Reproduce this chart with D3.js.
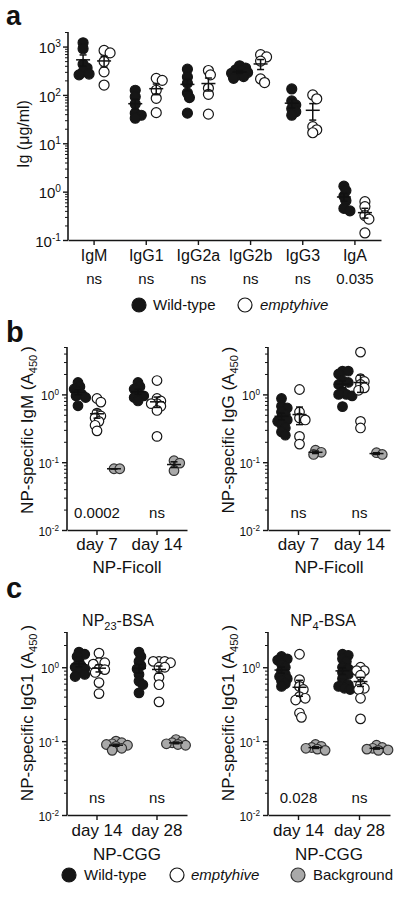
<!DOCTYPE html>
<html><head><meta charset="utf-8">
<script src="https://cdn.jsdelivr.net/npm/d3@7"></script>
<style>
body{margin:0;background:#fff}
svg text{font-family:"Liberation Sans",Arial,Helvetica,sans-serif;fill:#111}
</style>
</head><body>
<svg id="chart" width="400" height="900"></svg>
<script>
// ---------- DATA ----------
// Panel a: serum Ig (µg/ml)
const igCategories = ["IgM","IgG1","IgG2a","IgG2b","IgG3","IgA"];
const igWildType = [
  [1200, 900, 430, 360, 300, 270, 260],
  [125, 92, 65, 42, 38, 33],
  [340, 235, 175, 110, 88, 42],
  [400, 360, 330, 310, 290, 280, 260, 240, 220],
  [133, 75, 62, 52, 45, 38],
  [1.3, 1.05, 0.8, 0.65, 0.45, 0.4]
];
const igEmptyhive = [
  [830, 740, 490, 300, 160],
  [220, 200, 125, 85, 43],
  [320, 260, 137, 103, 40],
  [680, 610, 500, 214, 180],
  [100, 83, 22, 19, 16.5],
  [0.62, 0.49, 0.32, 0.27, 0.14]
];
const igPValues = ["ns","ns","ns","ns","ns","0.035"];

// Panel b: NP-Ficoll
const ficollDays = ["day 7","day 14"];
const igmWildType = [[1.5, 1.3, 1.2, 1.1, 1.0, 0.95, 0.9, 0.68],[1.5, 1.3, 1.2, 1.0, 0.95, 0.9, 0.8]];
const igmEmptyhive = [[0.87, 0.77, 0.53, 0.48, 0.45, 0.40, 0.35, 0.29],[1.6, 0.87, 0.8, 0.73, 0.73, 0.67, 0.58, 0.24]];
const igmBackground = [[0.08, 0.08],[0.105, 0.097, 0.075]];
const igmPValues = ["0.0002","ns"];
const iggWildType = [[0.87, 0.67, 0.63, 0.55, 0.5, 0.45, 0.42, 0.40, 0.36, 0.32, 0.28, 0.25],[2.2, 2.2, 2.0, 1.6, 1.5, 1.4, 1.1, 1.0, 1.0, 0.95, 0.66]];
const iggEmptyhive = [[1.18, 0.55, 0.45, 0.42, 0.24, 0.185],[4.2, 1.7, 1.55, 1.4, 1.25, 1.15, 0.40, 0.32]];
const iggBackground = [[0.15, 0.14, 0.13],[0.138, 0.13]];
const iggPValues = ["ns","ns"];

// Panel c: NP-CGG
const cggDays = ["day 14","day 28"];
const np23WildType = [[1.6, 1.5, 1.4, 1.2, 1.05, 1.0, 0.95, 0.85, 0.8, 0.75],[1.6, 1.4, 1.2, 1.05, 0.95, 0.8, 0.65, 0.58, 0.45]];
const np23Emptyhive = [[1.55, 1.15, 1.15, 1.1, 0.95, 0.93, 0.85, 0.62, 0.44],[1.2, 1.2, 1.2, 1.15, 1.0, 1.0, 0.73, 0.58, 0.34]];
const np23Background = [[0.1, 0.095, 0.092, 0.09, 0.088, 0.085, 0.08, 0.075],[0.105, 0.098, 0.095, 0.092, 0.09, 0.088]];
const np23PValues = ["ns","ns"];
const np4WildType = [[1.4, 1.3, 1.25, 1.1, 1.0, 0.9, 0.8, 0.75, 0.7, 0.65, 0.6, 0.55],[1.5, 1.45, 1.3, 1.2, 1.0, 0.95, 0.85, 0.8, 0.7, 0.6, 0.58, 0.55, 0.52, 0.5]];
const np4Emptyhive = [[1.5, 0.68, 0.55, 0.5, 0.4, 0.38, 0.36, 0.24, 0.21],[1.0, 0.9, 0.9, 0.78, 0.58, 0.52, 0.5, 0.38, 0.2]];
const np4Background = [[0.09, 0.085, 0.082, 0.08, 0.078, 0.075],[0.088, 0.082, 0.08, 0.078, 0.076, 0.075]];
const np4PValues = ["0.028","ns"];

const legendLabels = ["Wild-type","emptyhive","Background"];

// ---------- STYLE ----------
const INK = "#161616", GREY = "#a9a9a9";
const styles = {
  wt: {fill: INK, stroke: INK},
  ko: {fill: "#fff", stroke: INK},
  bg: {fill: GREY, stroke: "#333"}
};
const svg = d3.select("#chart");

function swarm(vals, y, cx, r, minD) {
  const pts = vals.map(v => ({v, y: y(v)})).sort((a, b) => a.y - b.y);
  const placed = [];
  const step = r * 0.4;
  const offs = [0];
  for (let k = 1; k < 40; k++) { offs.push(k * step, -k * step); }
  pts.forEach(p => {
    for (const o of offs) {
      const x = cx + o;
      if (placed.every(q => Math.hypot(q.x - x, q.y - p.y) >= minD)) { p.x = x; break; }
    }
    placed.push(p);
  });
  return pts;
}

function drawPanel(o) {
  const g = svg.append("g");
  const x = d3.scaleBand().domain(o.cats).range([o.x0, o.x1]);
  const y = d3.scaleLog().domain(o.domain).range([o.y1, o.y0]);
  const [lo, hi] = o.domain;
  const kLo = Math.floor(Math.log10(lo)), kHi = Math.ceil(Math.log10(hi));
  const majors = d3.range(kLo, kHi + 1).map(k => Math.pow(10, k)).filter(v => v >= lo * 0.999 && v <= hi);
  const minors = [];
  d3.range(kLo, kHi + 1).forEach(k => { for (let m = 2; m <= 9; m++) { const v = m * Math.pow(10, k); if (v > lo && v <= hi) minors.push(v); } });

  const ym = g.append("g").attr("transform", `translate(${o.x0},0)`)
    .call(d3.axisLeft(y).tickValues(minors).tickSize(3).tickFormat(""));
  ym.select(".domain").remove();
  ym.selectAll("line").attr("stroke", INK).attr("stroke-width", 1);
  const ya = g.append("g").attr("transform", `translate(${o.x0},0)`)
    .call(d3.axisLeft(y).tickValues(majors).tickSize(5).tickPadding(o.yPad).tickSizeOuter(0));
  ya.select(".domain").attr("stroke", INK).attr("stroke-width", 1.6)
    .attr("d", `M0,${o.y0}V${o.y1}`);
  ya.selectAll("line").attr("stroke", INK).attr("stroke-width", 1.4);
  ya.selectAll("text").attr("font-size", o.tickFont).attr("fill", "#111").attr("dy", "0.42em")
    .each(function(d){
      const s = d3.select(this);
      const e = Math.round(Math.log10(d));
      s.text(null);
      s.append("tspan").text("10");
      s.append("tspan").attr("dy", -o.tickFont * 0.4).attr("font-size", o.tickFont * 0.68).text(String(e));
    });

  const xa = g.append("g").attr("transform", `translate(0,${o.y1})`)
    .call(d3.axisBottom(x).tickSize(5).tickPadding(o.xPad).tickSizeOuter(0));
  xa.select(".domain").attr("stroke", INK).attr("stroke-width", 1.6);
  xa.selectAll("line").attr("stroke", INK).attr("stroke-width", 1.4);
  xa.selectAll("text").attr("font-size", o.xFont).attr("fill", "#111");

  const r = o.r;
  o.groups.forEach(grp => {
    grp.data.forEach((vals, i) => {
      const cx = x(o.cats[i]) + x.bandwidth() / 2 + grp.offset;
      const pts = swarm(vals, y, cx, r, r * 0.95);
      g.append("g").selectAll("circle").data(pts).join("circle")
        .attr("cx", d => d.x).attr("cy", d => d.y).attr("r", r)
        .attr("fill", styles[grp.style].fill).attr("stroke", styles[grp.style].stroke)
        .attr("stroke-width", 1.2);
    });
  });
  o.groups.forEach(grp => {
    grp.data.forEach((vals, i) => {
      const cx = x(o.cats[i]) + x.bandwidth() / 2 + grp.offset;
      const m = d3.mean(vals), se = d3.deviation(vals) / Math.sqrt(vals.length);
      const yT = y(m + se), yB = y(Math.max(m - se, lo));
      const gg = g.append("g").attr("stroke", "#111").attr("stroke-width", 1.5).attr("fill", "none");
      gg.append("line").attr("x1", cx - 7).attr("x2", cx + 7).attr("y1", y(m)).attr("y2", y(m));
      gg.append("line").attr("x1", cx).attr("x2", cx).attr("y1", yT).attr("y2", yB);
      gg.append("line").attr("x1", cx - 3.5).attr("x2", cx + 3.5).attr("y1", yT).attr("y2", yT);
      gg.append("line").attr("x1", cx - 3.5).attr("x2", cx + 3.5).attr("y1", yB).attr("y2", yB);
    });
  });

  g.append("g").selectAll("text").data(o.pvals).join("text")
    .attr("x", (d, i) => x(o.cats[i]) + x.bandwidth() / 2).attr("y", o.pY)
    .attr("text-anchor", "middle").attr("font-size", 15).text(d => d);

  if (o.xlabel) {
    g.append("text").attr("x", (o.x0 + o.x1) / 2).attr("y", o.xlabelY)
      .attr("text-anchor", "middle").attr("font-size", 17).text(o.xlabel);
  }
  const t = g.append("text").attr("transform", `translate(${o.ytX},${o.ytY}) rotate(-90)`)
    .attr("text-anchor", "middle").attr("font-size", o.ytFont);
  t.append("tspan").text(o.ytitle[0]);
  if (o.ytitle[1]) {
    t.append("tspan").attr("dy", 4).attr("font-size", 11).text(o.ytitle[1]);
    t.append("tspan").attr("dy", -4).attr("dx", 3).text(o.ytitle[2]);
  }
  if (o.title) {
    const tt = g.append("text").attr("x", o.titleX).attr("y", o.titleY)
      .attr("text-anchor", "middle").attr("font-size", 16);
    tt.append("tspan").text(o.title[0]);
    tt.append("tspan").attr("dy", 4).attr("font-size", 11).text(o.title[1]);
    tt.append("tspan").attr("dy", -4).text(o.title[2]);
  }
}

[["a", 6, 25, 27], ["b", 6, 342, 29], ["c", 6, 598, 29]].forEach(([l, lx, ly, fs]) =>
  svg.append("text").attr("x", lx).attr("y", ly).attr("font-size", fs).attr("font-weight", "bold").text(l));

drawPanel({
  cats: igCategories, x0: 68, x1: 381, y0: 32, y1: 240, domain: [0.1, 2000], xPad: 5, yPad: 2, r: 5,
  tickFont: 15, xFont: 16, ytFont: 16,
  groups: [{data: igWildType, offset: -11, style: "wt"}, {data: igEmptyhive, offset: 10, style: "ko"}],
  pvals: igPValues, pY: 284, ytitle: ["Ig (\u03bcg/ml)"], ytX: 29, ytY: 134
});

drawPanel({
  cats: ficollDays, x0: 67, x1: 187, y0: 347, y1: 530, domain: [0.01, 5], xPad: 3, yPad: 3, r: 4.8,
  tickFont: 12, xFont: 17, ytFont: 17,
  groups: [{data: igmWildType, offset: -19, style: "wt"}, {data: igmEmptyhive, offset: 0, style: "ko"}, {data: igmBackground, offset: 17, style: "bg"}],
  pvals: igmPValues, pY: 518, xlabel: "NP-Ficoll", xlabelY: 573,
  ytitle: ["NP-specific IgM (A", "450", ")"], ytX: 33, ytY: 430
});
drawPanel({
  cats: ficollDays, x0: 268, x1: 390, y0: 347, y1: 530, domain: [0.01, 5], xPad: 3, yPad: 3, r: 4.8,
  tickFont: 12, xFont: 17, ytFont: 17,
  groups: [{data: iggWildType, offset: -17, style: "wt"}, {data: iggEmptyhive, offset: 1, style: "ko"}, {data: iggBackground, offset: 17, style: "bg"}],
  pvals: iggPValues, pY: 518, xlabel: "NP-Ficoll", xlabelY: 573,
  ytitle: ["NP-specific IgG (A", "450", ")"], ytX: 234, ytY: 430
});

drawPanel({
  cats: cggDays, x0: 67, x1: 187, y0: 632, y1: 815, domain: [0.01, 3], xPad: 4, yPad: 3, r: 4.8,
  tickFont: 12, xFont: 17, ytFont: 17,
  groups: [{data: np23WildType, offset: -18, style: "wt"}, {data: np23Emptyhive, offset: 2, style: "ko"}, {data: np23Background, offset: 19, style: "bg"}],
  pvals: np23PValues, pY: 803, xlabel: "NP-CGG", xlabelY: 860,
  ytitle: ["NP-specific IgG1 (A", "450", ")"], ytX: 33, ytY: 713,
  title: ["NP", "23", "-BSA"], titleX: 118, titleY: 626
});
drawPanel({
  cats: cggDays, x0: 268, x1: 390, y0: 632, y1: 815, domain: [0.01, 3], xPad: 4, yPad: 3, r: 4.8,
  tickFont: 12, xFont: 17, ytFont: 17,
  groups: [{data: np4WildType, offset: -17, style: "wt"}, {data: np4Emptyhive, offset: 1, style: "ko"}, {data: np4Background, offset: 17, style: "bg"}],
  pvals: np4PValues, pY: 803, xlabel: "NP-CGG", xlabelY: 860,
  ytitle: ["NP-specific IgG1 (A", "450", ")"], ytX: 234, ytY: 713,
  title: ["NP", "4", "-BSA"], titleX: 323, titleY: 626
});

function legend(items, cy) {
  const g = svg.append("g");
  items.forEach(it => {
    g.append("circle").attr("cx", it.cx).attr("cy", cy).attr("r", 7)
      .attr("fill", styles[it.style].fill).attr("stroke", styles[it.style].stroke).attr("stroke-width", 1.2);
    g.append("text").attr("x", it.tx).attr("y", cy + 5).attr("font-size", 15)
      .attr("font-style", it.italic ? "italic" : "normal").text(it.label);
  });
}
legend([
  {cx: 139, tx: 153, style: "wt", label: legendLabels[0]},
  {cx: 245, tx: 260, style: "ko", label: legendLabels[1], italic: true}
], 305);
legend([
  {cx: 69, tx: 84, style: "wt", label: legendLabels[0]},
  {cx: 177, tx: 191, style: "ko", label: legendLabels[1], italic: true},
  {cx: 298, tx: 313, style: "bg", label: legendLabels[2]}
], 875);
</script>
</body></html>
